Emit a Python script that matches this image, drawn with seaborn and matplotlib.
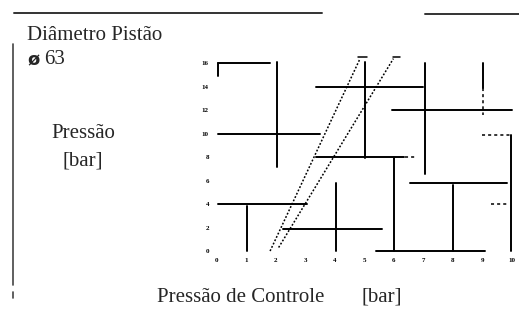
import matplotlib
matplotlib.use("Agg")
import matplotlib.pyplot as plt
import seaborn as sns
from matplotlib.lines import Line2D

# Axis ticks
x_ticks = [0, 1, 2, 3, 4, 5, 6, 7, 8, 9, 10]
y_ticks = [0, 2, 4, 6, 8, 10, 12, 14, 16]

# Solid horizontal segments: (x start, x end, pressure level)
h_x0 = [0.05, 0.05, 3.35, 5.95, 3.35, 6.55, 0.05, 2.25, 5.40]
h_x1 = [1.80, 3.50, 7.00, 10.0, 6.35, 9.85, 3.05, 5.60, 9.10]
h_y = [16.0, 10.0, 14.0, 12.0, 8.0, 5.8, 4.0, 1.9, 0.0]

# Solid vertical segments: (control pressure, y start, y end)
v_x = [0.06, 2.05, 5.03, 7.06, 9.04, 6.01, 8.02, 9.97, 1.02, 4.03]
v_y0 = [14.9, 7.2, 7.9, 6.6, 13.9, 0.0, 0.0, 0.0, 0.0, 0.0]
v_y1 = [16.0, 16.1, 16.1, 16.0, 16.0, 7.9, 5.6, 9.9, 3.8, 5.8]

# Dashed / dotted short pieces
d_x0 = [9.00, 9.30, 6.40]
d_x1 = [9.95, 9.90, 6.80]
d_y = [9.9, 4.0, 8.0]

# Piston characteristic lines (dotted diagonals)
diag1_x = [1.81, 4.86]
diag1_y = [0.0, 16.4]
diag2_x = [2.10, 5.99]
diag2_y = [0.3, 16.4]

sns.set_theme(style="white")
plt.rcParams["font.family"] = ["Liberation Serif", "DejaVu Serif"]

fig = plt.figure(figsize=(5.19, 3.2), dpi=100)
ax = fig.add_axes([0.3891, 0.1972, 0.6252, 0.6966])
ax.set_xlim(-0.5, 10.5)
ax.set_ylim(-0.5, 18.5)
for s in ax.spines.values():
    s.set_visible(False)

lw = 1.4
for x0, x1, y in zip(h_x0, h_x1, h_y):
    sns.lineplot(x=[x0, x1], y=[y, y], ax=ax, color="black", lw=lw)
for x, y0, y1 in zip(v_x, v_y0, v_y1):
    sns.lineplot(x=[x, x], y=[y0, y1], ax=ax, color="black", lw=lw, orient="y")
for x0, x1, y in zip(d_x0, d_x1, d_y):
    ax.plot([x0, x1], [y, y], color="black", lw=1.1, ls=(0, (2, 2)))
ax.plot([9.04, 9.04], [13.9, 11.6], color="black", lw=1.1, ls=(0, (2, 2)))

ax.plot(diag1_x, diag1_y, color="black", lw=1.1, ls=(0, (1.2, 1.2)))
ax.plot(diag2_x, diag2_y, color="black", lw=1.1, ls=(0, (1.2, 1.2)))
ax.plot([4.78, 5.08], [16.55, 16.55], color="black", lw=1.1)
ax.plot([5.96, 6.22], [16.55, 16.55], color="black", lw=1.1)

ax.set_xticks(x_ticks)
ax.set_xticklabels([str(v) for v in x_ticks])
ax.set_yticks(y_ticks)
ax.set_yticklabels([str(v) for v in y_ticks])
ax.tick_params(axis="both", length=0, labelsize=5, colors="black")
ax.tick_params(axis="y", pad=-5)
ax.tick_params(axis="x", pad=1)
for lab in ax.get_xticklabels() + ax.get_yticklabels():
    lab.set_fontweight("bold")
ax.set_xlabel("")
ax.set_ylabel("")

# Page rules and labels
fig.add_artist(Line2D([14 / 519, 322 / 519], [1 - 12.7 / 320] * 2, color="#333333", lw=1.4))
fig.add_artist(Line2D([425 / 519, 1.0], [1 - 13.5 / 320] * 2, color="#333333", lw=1.4))
fig.add_artist(Line2D([13 / 519, 13 / 519], [1 - 44 / 320, 1 - 285 / 320], color="#444444", lw=1.2))
fig.add_artist(Line2D([13 / 519, 13 / 519], [1 - 292 / 320, 1 - 298 / 320], color="#444444", lw=1.2))

fs = 15
fig.text(27 / 519, 1 - 36 / 320, "Diâmetro Pistão", fontsize=fs, va="center", ha="left")
fig.text(27 / 519, 1 - 60 / 320, "ø", fontsize=13, fontweight="bold",
         family="DejaVu Sans", va="center", ha="left")
fig.text(44 / 519, 1 - 60 / 320, "63", fontsize=fs, va="center", ha="left")
fig.text(83 / 519, 1 - 134 / 320, "Pressão", fontsize=fs, va="center", ha="center")
fig.text(83 / 519, 1 - 161 / 320, "[bar]", fontsize=fs, va="center", ha="center")
fig.text(157 / 519, 1 - 297 / 320, "Pressão de Controle", fontsize=fs, va="center", ha="left")
fig.text(382 / 519, 1 - 297 / 320, "[bar]", fontsize=fs, va="center", ha="center")

fig.savefig("out.png", dpi=100)
